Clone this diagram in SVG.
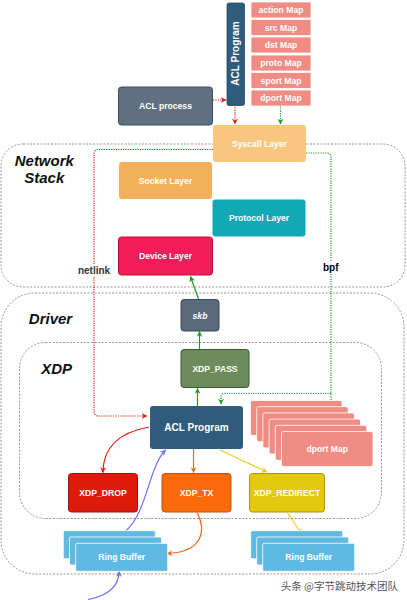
<svg xmlns="http://www.w3.org/2000/svg" width="407" height="600" viewBox="0 0 407 600">
<defs>
<style>
.box{stroke-width:1}
.t{font-family:"Liberation Sans",Arial,sans-serif;font-weight:bold;font-size:8.6px;fill:#fff;text-anchor:middle;dominant-baseline:central}
.title{font-family:"Liberation Sans",Arial,sans-serif;font-weight:bold;font-style:italic;font-size:15px;fill:#111;text-anchor:middle}
.lbl{font-family:"Liberation Sans",Arial,sans-serif;font-weight:bold;font-size:10px;text-anchor:middle;dominant-baseline:central}
.cont{fill:none;stroke:#8a8a8a;stroke-width:0.9;stroke-dasharray:2,1.5}
.map{fill:#f08c84;stroke:#fff;stroke-width:0.8}
.ring{fill:#5fb9e3;stroke:#fff;stroke-width:0.8}
.c{fill:none;stroke-width:1.2}
</style>
<marker id="ag" viewBox="0 0 10 10" refX="9" refY="5" markerWidth="6" markerHeight="6" orient="auto" markerUnits="userSpaceOnUse"><path d="M0,0L10,5L0,10L3,5z" fill="#1f9a2a"/></marker>
<marker id="ar" viewBox="0 0 10 10" refX="9" refY="5" markerWidth="6" markerHeight="6" orient="auto" markerUnits="userSpaceOnUse"><path d="M0,0L10,5L0,10L3,5z" fill="#e0201a"/></marker>
<marker id="ao" viewBox="0 0 10 10" refX="9" refY="5" markerWidth="6" markerHeight="6" orient="auto" markerUnits="userSpaceOnUse"><path d="M0,0L10,5L0,10L3,5z" fill="#f26b1d"/></marker>
<marker id="ay" viewBox="0 0 10 10" refX="9" refY="5" markerWidth="6" markerHeight="6" orient="auto" markerUnits="userSpaceOnUse"><path d="M0,0L10,5L0,10L3,5z" fill="#e4cc1a"/></marker>
<marker id="ab" viewBox="0 0 10 10" refX="9" refY="5" markerWidth="6" markerHeight="6" orient="auto" markerUnits="userSpaceOnUse"><path d="M0,0L10,5L0,10L3,5z" fill="#6f72f0"/></marker>
</defs>
<rect width="407" height="600" fill="#fff"/>

<g id="containers">
<rect class="cont" x="1" y="144" width="404" height="143" rx="22"/>
<rect class="cont" x="1" y="293" width="403" height="281" rx="34"/>
<rect class="cont" x="19.5" y="342.5" width="362" height="176" rx="26"/>
<text class="title" x="44.3" y="165.5">Network</text>
<text class="title" x="44.3" y="182.5">Stack</text>
<text class="title" x="50.5" y="323.5">Driver</text>
<text class="title" x="56.7" y="374">XDP</text>
</g>

<g id="connectors">
<path class="c" d="M213,149.5H98a4,4 0 0 0 -4,4V412a4,4 0 0 0 4,4H147" stroke="#e0201a" stroke-dasharray="1.2,1.2" marker-end="url(#ar)"/>
<path class="c" d="M306,153H327a4,4 0 0 1 4,4V407" stroke="#1f9a2a" stroke-dasharray="1.2,1.2" marker-end="url(#ag)"/>
<path class="c" d="M331,393.5H224a3,3 0 0 0 -3,3V404" stroke="#1f9a2a" stroke-dasharray="1.2,1.2" marker-end="url(#ag)"/>
<path class="c" d="M213,100H226" stroke="#e0201a" stroke-dasharray="1.2,1.2" marker-end="url(#ar)"/>
<path class="c" d="M235,105V124" stroke="#e0201a" stroke-dasharray="1.2,1.2" marker-end="url(#ar)"/>
<path class="c" d="M280.5,106V124" stroke="#1f9a2a" stroke-dasharray="1.2,1.2" marker-end="url(#ag)"/>
<path class="c" d="M198.5,299L190.5,276.5" stroke="#1f9a2a" marker-end="url(#ag)"/>
<path class="c" d="M199.5,349V331.5" stroke="#1f9a2a" marker-end="url(#ag)"/>
<path class="c" d="M197.5,406V388.5" stroke="#1f9a2a" marker-end="url(#ag)"/>
<path class="c" d="M149,427C116,433 103,450 103,472.5" stroke="#e0201a" marker-end="url(#ar)"/>
<path class="c" d="M193.5,449V472.5" stroke="#f26b1d" marker-end="url(#ao)"/>
<path class="c" d="M220,450L267,472" stroke="#e4cc1a" marker-end="url(#ay)"/>
<path class="c" d="M117,537C148,522 146,470 165.5,450" stroke="#6f72f0" marker-end="url(#ab)"/>
<path class="c" d="M197,512.5C206,530 204,552 167,553.5" stroke="#f26b1d" marker-end="url(#ao)"/>
<path class="c" d="M287.5,513L302,534" stroke="#e4cc1a" marker-end="url(#ay)"/>
<path class="c" d="M88,599.5C106,596 119,588 119,571.5" stroke="#6f72f0" marker-end="url(#ab)"/>
<rect x="78" y="265" width="32" height="11" fill="#fff"/>
<text class="lbl" x="94" y="270.7" fill="#333">netlink</text>
<rect x="322" y="262" width="17" height="11" fill="#fff"/>
<text class="lbl" x="330.8" y="267.5" fill="#000">bpf</text>
</g>

<g id="acl-program-top">
<rect x="227" y="3" width="17.5" height="102.5" rx="2" fill="#2f5b7d" stroke="#24485f" stroke-width="0.8"/>
<text class="t" font-size="10" style="font-size:10px" transform="translate(235.5,53.5) rotate(-90)">ACL Program</text>
</g>

<g id="maps-top">
<rect class="map" x="251" y="2" width="60" height="16" rx="1"/>
<text class="t" x="281" y="10">action Map</text>
<rect class="map" x="251" y="19.5" width="60" height="16" rx="1"/>
<text class="t" x="281" y="27.5">src Map</text>
<rect class="map" x="251" y="37" width="60" height="16" rx="1"/>
<text class="t" x="281" y="45">dst Map</text>
<rect class="map" x="251" y="55" width="60" height="16" rx="1"/>
<text class="t" x="281" y="63">proto Map</text>
<rect class="map" x="251" y="72.5" width="60" height="16" rx="1"/>
<text class="t" x="281" y="80.5">sport Map</text>
<rect class="map" x="251" y="90" width="60" height="16" rx="1"/>
<text class="t" x="281" y="98">dport Map</text>
</g>

<g id="acl-process">
<rect x="118.5" y="87" width="94" height="38" rx="3" fill="#5f7082" stroke="#3e4c5a" stroke-width="1"/>
<text class="t" x="165.5" y="106">ACL process</text>
</g>

<g id="syscall-layer">
<rect x="213" y="125" width="93" height="37" rx="3" fill="#f8c67f"/>
<text class="t" x="259.5" y="143.5">Syscall Layer</text>
</g>

<g id="socket-layer">
<rect x="119" y="162" width="93" height="37" rx="3" fill="#f3b05a"/>
<text class="t" x="165.5" y="180.5">Socket Layer</text>
</g>

<g id="protocol-layer">
<rect x="212.5" y="199.5" width="93" height="37" rx="3" fill="#13a8b5"/>
<text class="t" x="259" y="218">Protocol Layer</text>
</g>

<g id="device-layer">
<rect x="118.5" y="237" width="94" height="38" rx="3" fill="#f41c5a" stroke="#b8132e" stroke-width="1"/>
<text class="t" x="165.5" y="256">Device Layer</text>
</g>

<g id="skb">
<rect x="181" y="299.5" width="38" height="31.5" rx="3" fill="#5a6a7d" stroke="#3a4756" stroke-width="1"/>
<text class="t" x="200" y="315.5" font-style="italic">skb</text>
</g>

<g id="xdp-pass">
<rect x="181" y="349.5" width="68" height="38" rx="3" fill="#6d8c5b" stroke="#3b5a2a" stroke-width="1"/>
<text class="t" x="215" y="368.5">XDP_PASS</text>
</g>

<g id="acl-program">
<rect x="150" y="406" width="93" height="43" rx="3" fill="#2f5b7d"/>
<text class="t" x="196.5" y="427.5" style="font-size:10px">ACL Program</text>
</g>

<g id="dport-map-stack">
<rect class="map" x="250.5" y="400.5" width="91.5" height="35" rx="2"/>
<rect class="map" x="256.7" y="406.7" width="91.5" height="35" rx="2"/>
<rect class="map" x="262.9" y="412.9" width="91.5" height="35" rx="2"/>
<rect class="map" x="269.1" y="419.1" width="91.5" height="35" rx="2"/>
<rect class="map" x="275.3" y="425.3" width="91.5" height="35" rx="2"/>
<rect class="map" x="281.5" y="431.5" width="91.5" height="35" rx="2"/>
<text class="t" x="327.2" y="449">dport Map</text>
</g>

<g id="xdp-drop">
<rect x="68.5" y="473.5" width="69" height="38.5" rx="3" fill="#e01a0b" stroke="#a1140a" stroke-width="1"/>
<text class="t" x="103" y="493">XDP_DROP</text>
</g>

<g id="xdp-tx">
<rect x="162" y="473.5" width="69" height="38.5" rx="3" fill="#fb6a0a" stroke="#c4510a" stroke-width="1"/>
<text class="t" x="196.5" y="493">XDP_TX</text>
</g>

<g id="xdp-redirect">
<rect x="249.5" y="473.5" width="75" height="38.5" rx="3" fill="#e3c80e" stroke="#a99610" stroke-width="1"/>
<text class="t" x="287" y="493">XDP_REDIRECT</text>
</g>

<g id="ring-buffer-left">
<rect class="ring" x="63.3" y="530.7" width="92" height="28" rx="1.5"/>
<rect class="ring" x="69.5" y="537" width="92" height="28" rx="1.5"/>
<rect class="ring" x="75.7" y="543.3" width="92" height="28" rx="1.5"/>
<text class="t" x="121.7" y="557.3">Ring Buffer</text>
</g>

<g id="ring-buffer-right">
<rect class="ring" x="250.7" y="530.7" width="92" height="28" rx="1.5"/>
<rect class="ring" x="256.7" y="537" width="92" height="28" rx="1.5"/>
<rect class="ring" x="262.7" y="543.3" width="92" height="28" rx="1.5"/>
<text class="t" x="308.7" y="557.3">Ring Buffer</text>
</g>

<text x="398" y="590" font-family="'Noto Sans CJK SC','Liberation Sans',sans-serif" font-size="10.5" fill="#555" text-anchor="end">头条 @字节跳动技术团队</text>
</svg>
